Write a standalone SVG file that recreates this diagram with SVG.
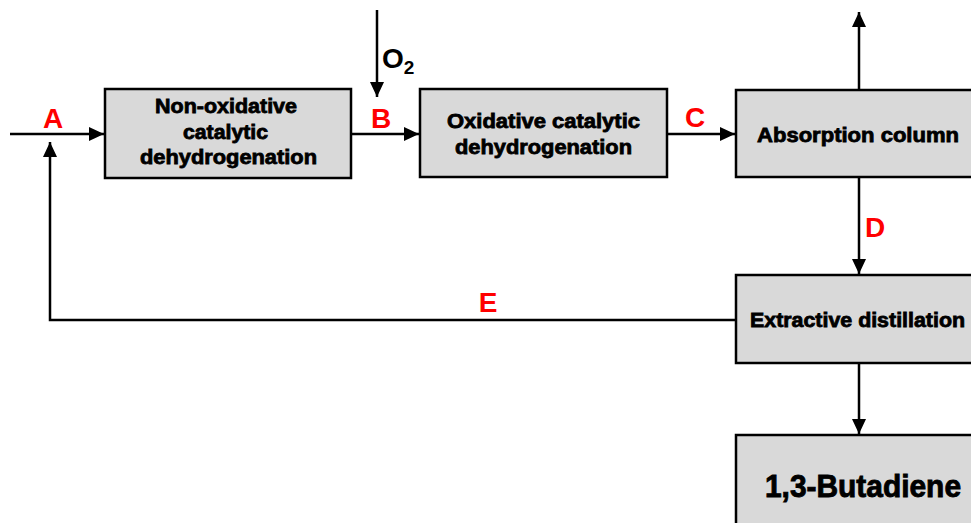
<svg xmlns="http://www.w3.org/2000/svg" width="971" height="523" viewBox="0 0 971 523">
<style>
.box{fill:#d9d9d9;stroke:#000;stroke-width:2.5}
.t{font-family:"Liberation Sans",Arial,sans-serif;font-weight:bold;font-size:20px;fill:#000;stroke:#000;stroke-width:0.8}
.lbl{font-family:"Liberation Sans",Arial,sans-serif;font-weight:bold;font-size:28px;fill:#ff0000;text-anchor:middle}
.ln{fill:none;stroke:#000;stroke-width:2.5}
</style>
<defs>
<marker id="ah" markerWidth="15" markerHeight="14" viewBox="0 0 15 14" refX="15" refY="7" orient="auto" markerUnits="userSpaceOnUse">
<path d="M0,0 L15,7 L0,14 z" fill="#000"/>
</marker>
</defs>
<rect width="971" height="523" fill="#fff"/>
<g id="connectors">
<line class="ln" x1="10" y1="134" x2="104" y2="134" marker-end="url(#ah)"/>
<line class="ln" x1="351" y1="134" x2="419" y2="134" marker-end="url(#ah)"/>
<line class="ln" x1="377" y1="10" x2="377" y2="97" marker-end="url(#ah)"/>
<line class="ln" x1="667" y1="134" x2="735" y2="134" marker-end="url(#ah)"/>
<line class="ln" x1="859" y1="90" x2="859" y2="12" marker-end="url(#ah)"/>
<line class="ln" x1="859" y1="177" x2="859" y2="274" marker-end="url(#ah)"/>
<line class="ln" x1="859" y1="363" x2="859" y2="434" marker-end="url(#ah)"/>
<polyline class="ln" points="736,320 50,320 50,142" marker-end="url(#ah)"/>
</g>
<g id="labels">
<text class="lbl" x="53" y="128">A</text>
<text class="lbl" x="381" y="128">B</text>
<text class="lbl" x="695" y="127">C</text>
<text class="lbl" x="875" y="237">D</text>
<text class="lbl" x="488" y="312">E</text>
<text x="382" y="68" font-family="Liberation Sans,Arial,sans-serif" font-weight="bold" font-size="28" fill="#000">O<tspan font-size="19" dy="6">2</tspan></text>
</g>
<g id="node-nonox">
<rect class="box" x="105" y="89" width="246" height="89"/>
<text class="t" x="155" y="113" textLength="142" lengthAdjust="spacingAndGlyphs">Non-oxidative</text>
<text class="t" x="183" y="139" textLength="85" lengthAdjust="spacingAndGlyphs">catalytic</text>
<text class="t" x="140" y="164" textLength="177" lengthAdjust="spacingAndGlyphs">dehydrogenation</text>
</g>
<g id="node-ox">
<rect class="box" x="420" y="89" width="247" height="88"/>
<text class="t" x="447" y="128" textLength="193" lengthAdjust="spacingAndGlyphs">Oxidative catalytic</text>
<text class="t" x="455" y="154" textLength="177" lengthAdjust="spacingAndGlyphs">dehydrogenation</text>
</g>
<g id="node-abs">
<rect class="box" x="736" y="90" width="250" height="87"/>
<text class="t" x="757" y="142" textLength="202" lengthAdjust="spacingAndGlyphs">Absorption column</text>
</g>
<g id="node-ext">
<rect class="box" x="736" y="275" width="250" height="88"/>
<text class="t" x="750" y="327" textLength="215" lengthAdjust="spacingAndGlyphs">Extractive distillation</text>
</g>
<g id="node-bd">
<rect class="box" x="736" y="435" width="250" height="100"/>
<text class="t" x="765" y="497" textLength="196" lengthAdjust="spacingAndGlyphs" style="font-size:32px;stroke-width:0.9">1,3-Butadiene</text>
</g>
</svg>
